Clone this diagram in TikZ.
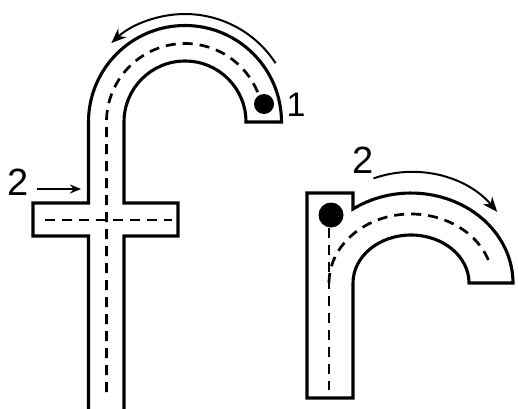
\documentclass[tikz,border=0pt]{standalone}
\usepackage{fontspec}
\setmainfont{Liberation Sans}
\usetikzlibrary{arrows.meta}
\begin{document}
\begin{tikzpicture}[x=1pt,y=1pt,
  outline/.style={line width=3.1pt,line join=miter},
  guide/.style={line width=2.7pt,dash pattern=on 10pt off 7pt},
  motion/.style={line width=2pt,-{Stealth[length=15pt,width=12pt]}},
  num/.style={font=\fontsize{38}{40}\selectfont,inner sep=0pt}]
\useasboundingbox (0,0) rectangle (518,408);
% ---------- letter f ----------
\draw[outline] (88.5,-6) -- (88.5,172) -- (33,172) -- (33,205) -- (88.5,205) -- (88.5,286)
  arc[start angle=180,end angle=0,radius=96.5] -- (246,286)
  arc[start angle=0,end angle=180,radius=61] -- (124,205) -- (178,205) -- (178,172)
  -- (124,172) -- (124,-6);
\draw[guide] (106.5,16) -- (106.5,286) arc[start angle=180,end angle=22,radius=78.5];
\draw[guide] (45,188) -- (172,188);
\fill (264,304) circle[radius=10];
\coordinate (fa) at (275.6,344.8);
\draw[motion] (fa) arc[start angle=33,end angle=133,radius=108];
\node[num,font=\fontsize{34}{36}\selectfont] (one) at (296,303) {1};
\node[num] (twoa) at (18.5,225.5) {2};
\coordinate (fs) at (37,219);
\coordinate (fe) at (81,219);
\draw[line width=2pt,-{Stealth[length=11pt,width=9pt]}] (fs) -- (fe);
% ---------- letter r ----------
\draw[outline] (307,10) -- (307,215) -- (353,215) -- (353,199)
  arc[start angle=124.65,end angle=0,x radius=102,y radius=90] -- (469,125)
  arc[start angle=0,end angle=180,x radius=58,y radius=48] -- (353,10) -- cycle;
\draw[guide] (329,180) -- (329,18);
\draw[guide] (329,125) arc[start angle=180,end angle=14,x radius=82,y radius=69];
\fill (331,193) circle[radius=12.5];
\coordinate (ra) at (373.5,229.6);
\draw[motion] (ra) arc[start angle=109.4,end angle=40.3,radius=113];
\node[num] (twob) at (363,248) {2};
\end{tikzpicture}
\end{document}
